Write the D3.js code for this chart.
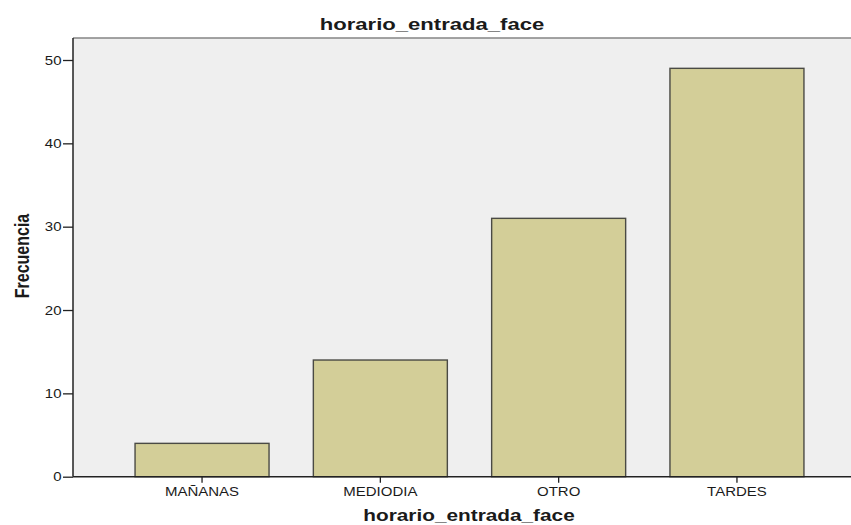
<!DOCTYPE html>
<html>
<head>
<meta charset="utf-8">
<script src="https://cdn.jsdelivr.net/npm/d3@7"></script>
<style>
  body { margin: 0; background: #fff; }
  text { font-family: "Liberation Sans", Arial, sans-serif; fill: #1a1a1a; }
</style>
</head>
<body>
<script>
// data
var categories = ["MAÑANAS", "MEDIODIA", "OTRO", "TARDES"];
var counts = [4, 14, 31, 49];
var yTicks = [0, 10, 20, 30, 40, 50];
var chartTitle = "horario_entrada_face";
var xTitle = "horario_entrada_face";
var yTitle = "Frecuencia";

var W = 851, H = 525;
// plot frame (right edge runs past the window, like the original)
var plotLeft = 73, plotRight = 866, plotTop = 38, plotBottom = 476.7;
var sx = 1.2; // the original picture is stretched sideways

var svg = d3.select("body").append("svg")
    .attr("width", W)
    .attr("height", H);

var x = d3.scaleBand()
    .domain(categories)
    .range([plotLeft, plotRight])
    .paddingInner(0.2485)
    .paddingOuter(0.348);

var y = d3.scaleLinear()
    .domain([0, 50])
    .range([plotBottom, 60]);

// plot background
svg.append("rect")
    .attr("x", plotLeft)
    .attr("y", plotTop)
    .attr("width", plotRight - plotLeft)
    .attr("height", plotBottom - plotTop)
    .attr("fill", "#efefef");

// top border
svg.append("line")
    .attr("x1", plotLeft).attr("x2", W)
    .attr("y1", plotTop).attr("y2", plotTop)
    .attr("stroke", "#858585")
    .attr("stroke-width", 1.6);

// bars
svg.selectAll(".bar")
    .data(counts)
  .enter().append("rect")
    .attr("class", "bar")
    .attr("x", function(d, i) { return x(categories[i]); })
    .attr("y", function(d) { return y(d); })
    .attr("width", x.bandwidth())
    .attr("height", function(d) { return y(0) - y(d); })
    .attr("fill", "#d3ce98")
    .attr("stroke", "#4a4a44")
    .attr("stroke-width", 1.4);

// y axis
var yAxis = svg.append("g")
    .attr("transform", "translate(" + plotLeft + ",0)")
    .call(d3.axisLeft(y).tickValues(yTicks).tickSize(10).tickPadding(1.5));
yAxis.select(".domain").remove();
yAxis.selectAll(".tick line").attr("stroke", "#222").attr("stroke-width", 1.3);
yAxis.selectAll(".tick text")
    .style("font-size", "12.5px")
    .attr("fill", "#222")
    .attr("x", -11.5 / sx)
    .attr("transform", "scale(" + sx + ",1)");

// x axis
var xAxis = svg.append("g")
    .attr("transform", "translate(0," + plotBottom + ")")
    .call(d3.axisBottom(x).tickSize(6).tickPadding(4));
xAxis.select(".domain").remove();
xAxis.selectAll(".tick line").attr("stroke", "#222").attr("stroke-width", 1.3);
xAxis.selectAll(".tick text")
    .style("font-size", "12.5px")
    .attr("fill", "#222")
    .attr("transform", "scale(" + sx + ",1)");

// axis lines
svg.append("line")
    .attr("x1", plotLeft).attr("x2", plotLeft)
    .attr("y1", plotTop).attr("y2", plotBottom)
    .attr("stroke", "#222")
    .attr("stroke-width", 1.5);
svg.append("line")
    .attr("x1", plotLeft).attr("x2", W)
    .attr("y1", plotBottom).attr("y2", plotBottom)
    .attr("stroke", "#222")
    .attr("stroke-width", 1.5);

// titles
function stretchedText(px, py, str, size, rot) {
  var g = svg.append("g")
      .attr("transform", "translate(" + px + "," + py + ") scale(1.3,1)" + (rot ? " rotate(" + rot + ")" : ""));
  g.append("text")
      .attr("text-anchor", "middle")
      .style("font-size", size + "px")
      .style("font-weight", "bold")
      .text(str);
}
stretchedText(432, 29.5, chartTitle, 17);
stretchedText(469, 521, xTitle, 16);
stretchedText(29, 256, yTitle, 16, -90);
</script>
</body>
</html>
